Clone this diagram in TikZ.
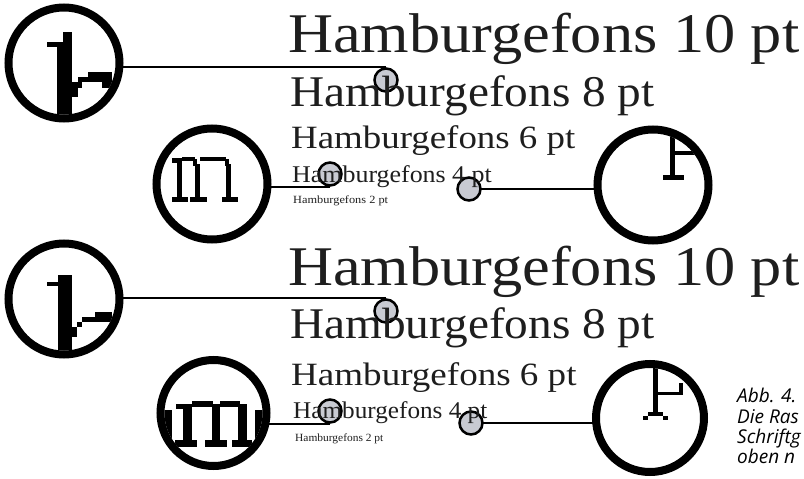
\documentclass[tikz,border=0pt]{standalone}
\usepackage{fontspec}
\usepackage{graphicx}
\setmainfont{Liberation Serif}
\newfontfamily\capfont{Open Sans}
\pgfdeclarelayer{bg}
\pgfsetlayers{bg,main}
\definecolor{dotgray}{RGB}{200,202,210}
\definecolor{ink}{RGB}{30,30,30}
\newcommand{\fsz}[1]{\fontsize{#1}{#1}\selectfont}
\newcommand{\wide}[2]{\scalebox{#1}[1]{#2}}
\tikzset{
  ring/.style={circle, draw=black, line width=8pt, fill=white, inner sep=0pt, minimum size=111pt},
  dot/.style={circle, draw=black, line width=2.5pt, fill=dotgray, inner sep=0pt, minimum size=23pt},
  conn/.style={line width=2.2pt, draw=black},
  sample/.style={anchor=base west, inner sep=0pt, text=ink},
  captext/.style={anchor=base west, inner sep=0pt, text=black, font=\capfont\itshape\fsz{19}},
}
\begin{document}
\begin{tikzpicture}[x=1pt,y=-1pt]
\useasboundingbox (0,0) rectangle (804,479);
\clip (0,0) rectangle (804,479);

% big rings
\node[ring] (A) at (64,63) {};
\node[ring] (M) at (212,184) {};
\node[ring] (R) at (653,185) {};
\node[ring] (B) at (64,299) {};
\node[ring, minimum size=106pt] (M2) at (213.5,413) {};
\node[ring, minimum size=108pt] (R2) at (650,418) {};

% small gray dots
\node[dot] (G1) at (386,80) {};
\node[dot] (G2) at (330,174) {};
\node[dot] (G3) at (469,189) {};
\node[dot] (G4) at (386,311) {};
\node[dot] (G5) at (330,411) {};
\node[dot] (G6) at (471,423) {};

% connectors
\begin{pgfonlayer}{bg}
\draw[conn] (G1.north) -- (G1.north -| A.center);
\draw[conn] (G2.south) -- (G2.south -| M.center);
\draw[conn] (G3.center) -- (G3.center -| R.center);
\draw[conn] (G4.north) -- (G4.north -| B.center);
\draw[conn] (G5.south) -- (G5.south -| M2.center);
\draw[conn] (G6.center) -- (G6.center -| R2.center);
\end{pgfonlayer}

% magnified glyph: top "1"
\begin{scope}
\clip (A.center) circle [radius=51.5pt];
\fill (57,42) rectangle (72,130);
\fill (63,32) rectangle (72,42);
\fill (47,42) rectangle (57,47);
\fill (88,72) rectangle (112,77);
\fill (78,77) rectangle (112,82);
\fill (102,82) rectangle (112,88);
\fill (72,82) rectangle (78,97);
\fill (78,82) rectangle (82,88);
\end{scope}

% magnified glyph: top "m"
\begin{scope}
\clip (M.center) circle [radius=51.5pt];
\fill (172,158) rectangle (182,163);
\fill (177,158) rectangle (182,199);
\fill (172,197) rectangle (188,202);
\fill (182,157) rectangle (195,161);
\fill (193,159) rectangle (197,166);
\fill (195,164) rectangle (200,199);
\fill (190,197) rectangle (207,202);
\fill (200,157) rectangle (226,161);
\fill (225,159) rectangle (229,166);
\fill (226,164) rectangle (231,199);
\fill (222,197) rectangle (238,202);
\end{scope}

% magnified glyph: top right
\begin{scope}
\clip (R.center) circle [radius=51.5pt];
\fill (670,110) rectangle (675,176);
\fill (663,175) rectangle (684,180);
\fill (675,151) rectangle (705,155);
\end{scope}

% magnified glyph: bottom "1"
\begin{scope}
\clip (B.center) circle [radius=51.5pt];
\fill (58,275) rectangle (72,370);
\fill (47,282) rectangle (58,286);
\fill (82,317) rectangle (112,322);
\fill (95,312) rectangle (112,317);
\fill (77,322) rectangle (82,327);
\fill (72,327) rectangle (77,337);
\end{scope}

% magnified glyph: bottom "rm"
\begin{scope}
\clip (M2.center) circle [radius=49pt];
\fill (160,410) rectangle (172,447);
\fill (176,404) rectangle (192,409);
\fill (183,404) rectangle (192,446);
\fill (175,440) rectangle (197,447);
\fill (192,401) rectangle (213,407);
\fill (212,404) rectangle (220,446);
\fill (205,440) rectangle (227,447);
\fill (220,401) rectangle (240,407);
\fill (238,404) rectangle (247,446);
\fill (232,440) rectangle (252,447);
\fill (255,410) rectangle (270,446);
\end{scope}

% magnified glyph: bottom right
\begin{scope}
\clip (R2.center) circle [radius=50pt];
\fill (653,350) rectangle (658,412);
\fill (658,392) rectangle (680,395);
\fill (679,383) rectangle (683,395);
\fill (648,412) rectangle (663,416);
\fill (643,416) rectangle (648,420);
\fill (663,416) rectangle (668,420);
\end{scope}

% sample texts, top group
\node[sample, font=\fsz{56}] (t10) at (288,52) {\wide{1.113}{Hamburgefons 10 pt}};
\node[sample, font=\fsz{43.8}] (t8) at (290,106) {\wide{1.08}{Hamburgefons 8 pt}};
\node[sample, font=\fsz{32.5}] (t6) at (291,148) {\wide{1.135}{Hamburgefons 6 pt}};
\node[sample, font=\fsz{24}] (t4) at (292,182) {\wide{1.08}{Hamburgefons 4 pt}};
\node[sample, font=\fsz{11}] (t2) at (293,203) {\wide{1.12}{Hamburgefons 2 pt}};

% sample texts, bottom group
\node[sample, font=\fsz{56}] (b10) at (288,285) {\wide{1.113}{Hamburgefons 10 pt}};
\node[sample, font=\fsz{43.8}] (b8) at (290,338) {\wide{1.08}{Hamburgefons 8 pt}};
\node[sample, font=\fsz{32.5}] (b6) at (291,385) {\wide{1.14}{Hamburgefons 6 pt}};
\node[sample, font=\fsz{24}] (b4) at (293,418) {\wide{1.05}{Hamburgefons 4 pt}};
\node[sample, font=\fsz{11}] (b2) at (295,441) {\wide{1.04}{Hamburgefons 2 pt}};

% caption (cut off at the right edge)
\node[captext] (c1) at (737,402) {Abb. 4.};
\node[captext] (c2) at (737,423) {Die Ras};
\node[captext] (c3) at (737,443) {Schriftg};
\node[captext] (c4) at (737,463) {oben n};
\end{tikzpicture}
\end{document}
